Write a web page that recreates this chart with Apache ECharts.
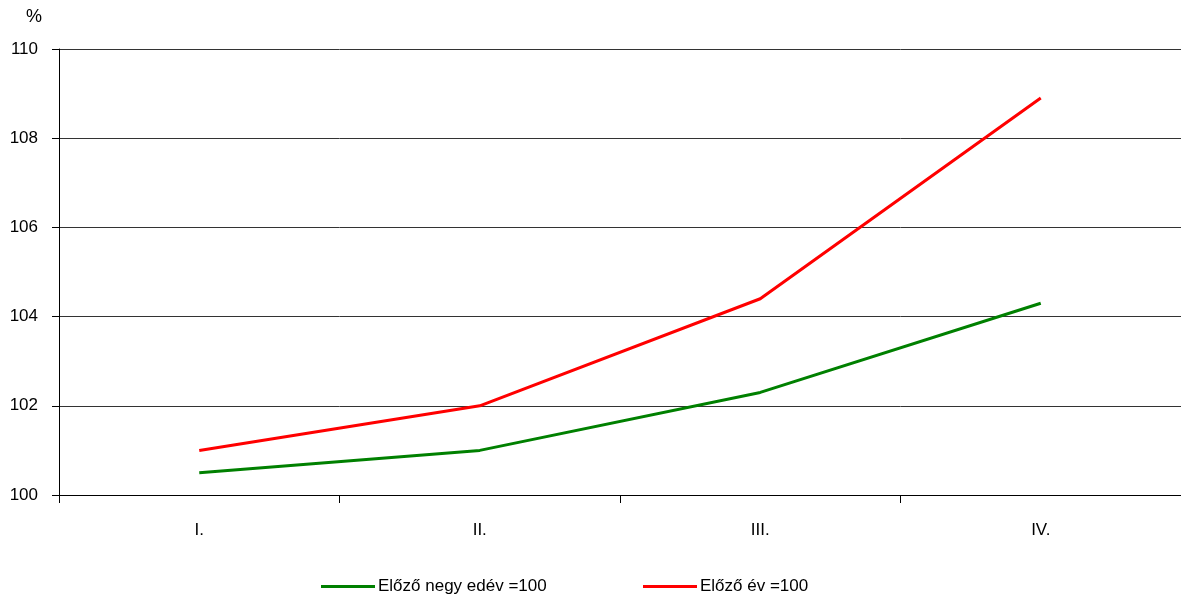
<!DOCTYPE html>
<html>
<head>
<meta charset="utf-8">
<script src="https://cdn.jsdelivr.net/npm/echarts@6/dist/echarts.min.js"></script>
<style>html,body{margin:0;padding:0;background:#fff;}#c{width:1181px;height:597px;}</style>
</head>
<body>
<div id="c"></div>
<script>
const categories = ['I.', 'II.', 'III.', 'IV.'];
const seriesNames = ['Előző negy edév =100', 'Előző év =100'];
const prevQuarter = [100.5, 101.0, 102.3, 104.3];
const prevYear = [101.0, 102.0, 104.4, 108.9];
const yUnit = '%';

const chart = echarts.init(document.getElementById('c'));
const font = '"Liberation Sans", Arial, sans-serif';
chart.setOption({
  animation: false,
  backgroundColor: '#fff',
  textStyle: { fontFamily: font },
  graphic: [{ type: 'text', left: 26, top: 8, style: { text: yUnit, font: '18px ' + font, fill: '#000' } }],
  grid: { left: 59, right: 0, top: 49, bottom: 102, containLabel: false },
  legend: [
    { data: [seriesNames[0]], left: 316, top: 573, itemWidth: 54, itemHeight: 3, icon: 'rect', itemGap: 4,
      textStyle: { fontSize: 17, color: '#000', fontFamily: font, padding: [0,0,0,-2] } },
    { data: [seriesNames[1]], left: 638, top: 573, itemWidth: 54, itemHeight: 3, icon: 'rect',
      textStyle: { fontSize: 17, color: '#000', fontFamily: font, padding: [0,0,0,-2] } }
  ],
  xAxis: {
    type: 'category', data: categories, boundaryGap: true,
    axisLine: { lineStyle: { color: '#000', width: 1 } },
    axisTick: { show: true, length: 8, lineStyle: { color: '#000' } },
    axisLabel: { color: '#000', fontSize: 17, margin: 27, fontFamily: font }
  },
  yAxis: {
    type: 'value', min: 100, max: 110, interval: 2,
    axisLine: { show: true, lineStyle: { color: '#000', width: 1 } },
    axisTick: { show: true, length: 7, lineStyle: { color: '#000' } },
    axisLabel: { color: '#000', fontSize: 17, margin: 21, fontFamily: font },
    splitLine: { show: true, lineStyle: { color: '#333', width: 1 } }
  },
  series: [
    { name: seriesNames[0], type: 'line', data: prevQuarter, symbol: 'none',
      lineStyle: { color: '#008000', width: 3 }, itemStyle: { color: '#008000' } },
    { name: seriesNames[1], type: 'line', data: prevYear, symbol: 'none',
      lineStyle: { color: '#ff0000', width: 3 }, itemStyle: { color: '#ff0000' } }
  ]
});
</script>
</body>
</html>
